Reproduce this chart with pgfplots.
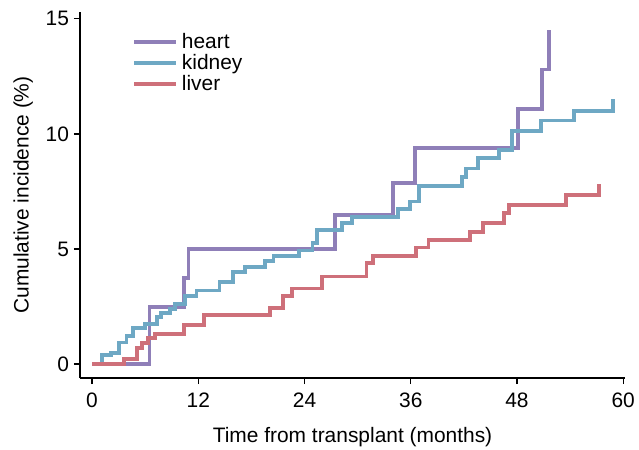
\documentclass[border=0pt]{standalone}
\usepackage{fontspec}
\setmainfont{Liberation Sans}
\usepackage{pgfplots}
\pgfplotsset{compat=1.18}

\definecolor{heartc}{RGB}{143,127,184}
\definecolor{kidneyc}{RGB}{110,168,196}
\definecolor{liverc}{RGB}{206,112,122}

\begin{document}
\begin{tikzpicture}[font=\fontsize{10.5}{12.6}\selectfont]
\begin{axis}[
    name=ax,
    scale only axis,
    width=272.5bp, height=183bp,
    xmin=-1.36, xmax=60.2,
    ymin=-0.61, ymax=15.3,
    axis x line=bottom, axis y line=left,
    axis line style={-, line width=1.3bp},
    xtick={0,12,24,36,48,60},
    ytick={0,5,10,15},
    tick align=outside,
    major tick length=3bp,
    tick style={black, line width=0.6bp},
    x tick label style={yshift=-0.7bp},
    y tick label style={xshift=1bp},
    /pgf/number format/assume math mode=true,
    xlabel={Time from transplant (months)},
    ylabel={Cumulative incidence (\%)},
    xlabel shift=3bp,
    ylabel shift=-0.5bp,
    legend style={draw=none, fill=none, at={(0.084,0.965)}, anchor=north west,
        row sep=-2.6pt, font=\fontsize{10.5}{12.6}\selectfont},
    legend cell align=left,
    legend image code/.code={\draw[#1, line width=1.9bp] (0,0) -- (21bp,0);},
    every axis plot/.append style={const plot, line width=1.9bp},
]
% heart
\addplot[heartc] coordinates {
    (0,0) (6.5,2.49) (10.4,3.73) (10.9,5.0) (27.4,6.48) (34.0,7.87)
    (36.5,9.39) (48.1,11.1) (50.8,12.8) (51.6,14.5)
};
% kidney
\addplot[kidneyc] coordinates {
    (0,0) (1.1,0.39) (2.1,0.49) (3.0,0.93) (3.9,1.22) (4.6,1.55) (6.0,1.74)
    (7.3,2.03) (7.8,2.2) (8.8,2.38) (9.4,2.6) (10.5,2.96) (11.8,3.19)
    (14.4,3.58) (15.9,4.01) (17.3,4.23) (19.5,4.48) (20.5,4.7) (23.4,4.93)
    (24.9,5.27) (25.4,5.83) (28.2,6.13) (29.4,6.39) (34.6,6.72) (35.9,7.06)
    (36.9,7.74) (41.8,8.14) (42.2,8.5) (43.6,8.94) (46.0,9.3) (47.4,10.14)
    (50.7,10.58) (54.4,11.01) (58.8,11.5)
};
% liver
\addplot[liverc] coordinates {
    (0,0) (3.6,0.22) (5.1,0.68) (5.65,0.9) (6.3,1.12) (7.1,1.3) (10.4,1.68)
    (12.65,2.13) (20.1,2.45) (21.6,2.96) (22.6,3.28) (26.0,3.8) (31.0,4.4)
    (31.75,4.7) (36.6,5.06) (38.0,5.39) (42.7,5.75) (44.2,6.14) (46.5,6.55)
    (47.1,6.91) (53.5,7.35) (57.3,7.83)
};
\legend{heart, kidney, liver}
\end{axis}
% page size as in the reference: margins round the axis box
\pgfresetboundingbox
\path[use as bounding box] ([shift={(-40bp,-36bp)}]ax.south west) rectangle ++(319.5bp,225bp);
\end{tikzpicture}
\end{document}
